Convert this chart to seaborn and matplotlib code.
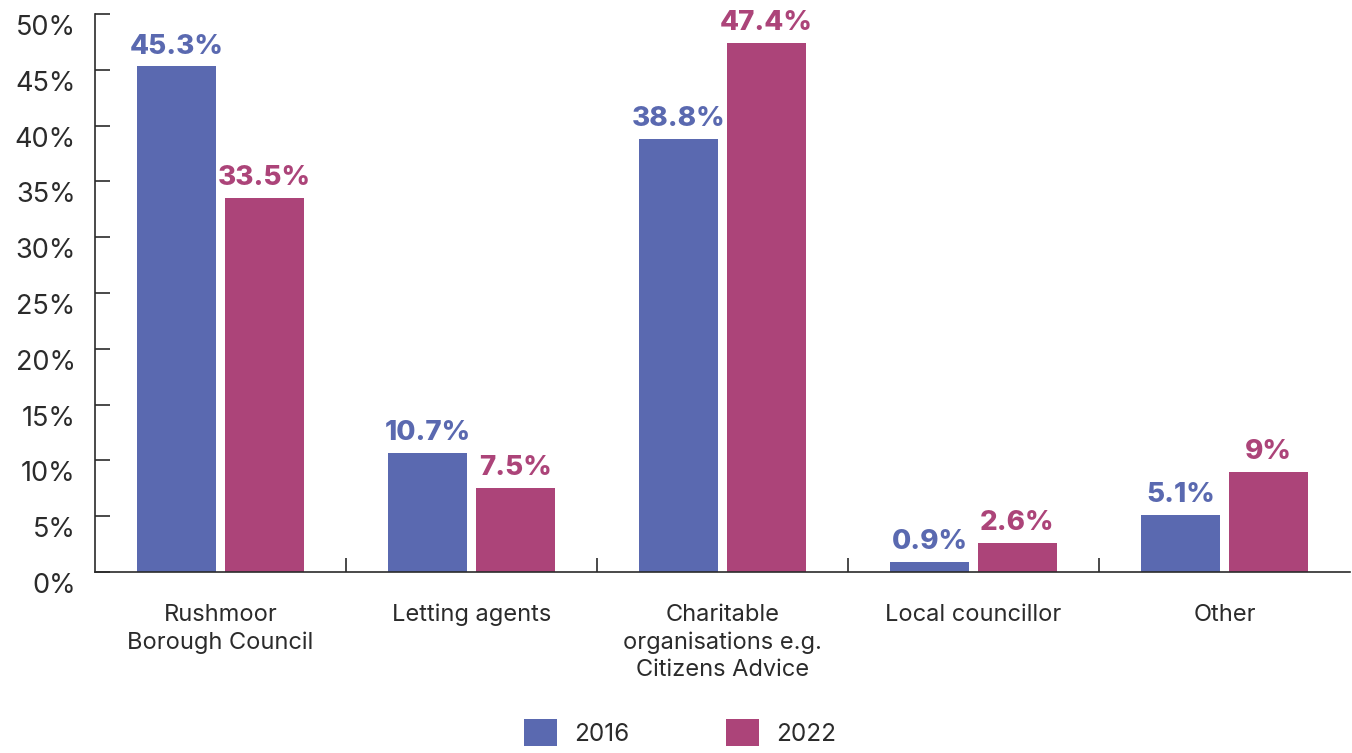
import matplotlib
matplotlib.use("Agg")
import matplotlib.pyplot as plt
import matplotlib.transforms as mtransforms
from matplotlib.patches import Patch
import pandas as pd
import seaborn as sns

categories = ["Rushmoor\nBorough Council", "Letting agents",
              "Charitable\norganisations e.g.\nCitizens Advice",
              "Local councillor", "Other"]
values_2016 = [45.3, 10.7, 38.8, 0.9, 5.1]
values_2022 = [33.5, 7.5, 47.4, 2.6, 9.0]
labels_2016 = ["45.3%", "10.7%", "38.8%", "0.9%", "5.1%"]
labels_2022 = ["33.5%", "7.5%", "47.4%", "2.6%", "9%"]
years = ["2016", "2022"]
y_ticks = [0, 5, 10, 15, 20, 25, 30, 35, 40, 45, 50]

BLUE = "#5A69B0"
MAGENTA = "#AC4479"
INK = "#2b2b2b"

df = pd.DataFrame({
    "category": categories * 2,
    "year": [years[0]] * len(categories) + [years[1]] * len(categories),
    "value": values_2016 + values_2022,
})

sns.set_style("white")
plt.rcParams["font.family"] = ["Inter", "DejaVu Sans"]
plt.rcParams["text.color"] = INK

fig = plt.figure(figsize=(13.52, 7.53), dpi=100)
ax = fig.add_axes([95 / 1352, 1 - 572 / 753, 1255 / 1352, (572 - 14) / 753])

sns.barplot(data=df, x="category", y="value", hue="year", order=categories,
            hue_order=years, palette=[BLUE, MAGENTA], saturation=1,
            width=0.701, gap=0.091, linewidth=0, legend=False, ax=ax)

ax.set_xlim(-0.5, len(categories) - 0.5)
ax.set_ylim(0, 50)
ax.set_xlabel("")
ax.set_ylabel("")

for container, labels, color in zip(ax.containers, [labels_2016, labels_2022], [BLUE, MAGENTA]):
    ax.bar_label(container, labels=labels, padding=5, color=color,
                 fontsize=20, fontweight="heavy", clip_on=False)

# Axes styling
for side in ["top", "right"]:
    ax.spines[side].set_visible(False)
for side in ["left", "bottom"]:
    ax.spines[side].set_color(INK)
    ax.spines[side].set_linewidth(1.2)

ax.set_yticks(y_ticks)
ax.set_yticklabels([f"{t}%" for t in y_ticks])
ax.tick_params(axis="y", direction="in", length=11, width=1.2, color=INK,
               pad=14, labelsize=19.5, labelcolor=INK, left=True)
offset = mtransforms.ScaledTranslation(0, -11 / 100, fig.dpi_scale_trans)
for lbl in ax.get_yticklabels():
    lbl.set_transform(lbl.get_transform() + offset)

ax.set_xticks(range(len(categories)))
ax.set_xticklabels(categories, linespacing=1.32)
ax.set_xticks([i + 0.5 for i in range(len(categories) - 1)], minor=True)
ax.tick_params(axis="x", which="major", length=0, pad=23, labelsize=17,
               labelcolor=INK)
ax.tick_params(axis="x", which="minor", direction="in", length=10, width=1.2,
               color=INK, bottom=True)
for lbl in ax.get_xticklabels():
    lbl.set_verticalalignment("top")

handles = [Patch(facecolor=BLUE, edgecolor="none", label=years[0]),
           Patch(facecolor=MAGENTA, edgecolor="none", label=years[1])]
fig.legend(handles=handles, loc="lower center", bbox_to_anchor=(0.503, -0.02),
           ncol=2, frameon=False, fontsize=17.5, handlelength=1.35,
           handleheight=1.35, handletextpad=0.7, columnspacing=4.0,
           labelcolor=INK)

fig.savefig("out.png", dpi=100)
